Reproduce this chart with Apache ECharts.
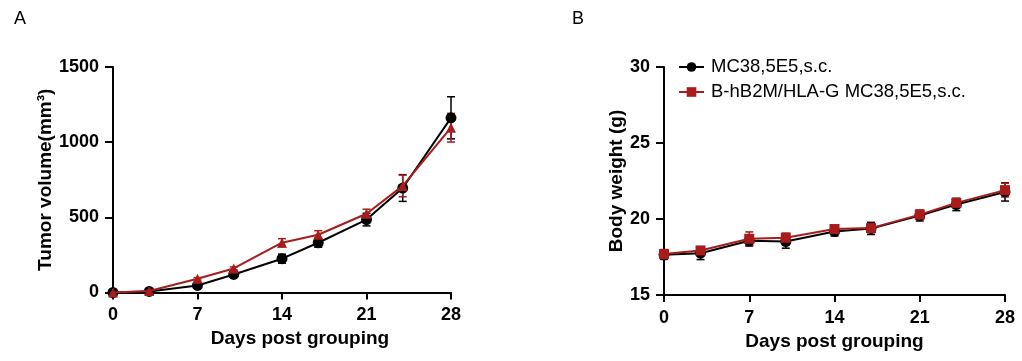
<!DOCTYPE html>
<html>
<head>
<meta charset="utf-8">
<script src="https://cdn.jsdelivr.net/npm/echarts@6/dist/echarts.min.js"></script>
<style>
html,body{margin:0;padding:0;background:#fff;}
#c{width:1022px;height:361px;}
</style>
</head>
<body>
<div id="c"></div>
<script>
// ---- data ----
const days = [0, 3, 7, 10, 14, 17, 21, 24, 28];
const seriesNames = ['MC38,5E5,s.c.', 'B-hB2M/HLA-G MC38,5E5,s.c.'];
// Panel A: tumor volume (mm3), mean and SEM
const volBlack    = [0, 7, 47, 120, 225, 331, 485, 695, 1162];
const volBlackErr = [2, 4, 10, 18, 30, 30, 42, 89, 140];
const volRed      = [0, 10, 91, 160, 331, 384, 524, 709, 1096];
const volRedErr   = [2, 4, 8, 10, 27, 27, 30, 72, 95];
// Panel B: body weight (g), mean and SEM
const wBlack    = [17.64, 17.75, 18.57, 18.52, 19.18, 19.38, 20.22, 20.95, 21.78];
const wBlackErr = [0.30, 0.42, 0.35, 0.44, 0.30, 0.40, 0.35, 0.40, 0.60];
const wRed      = [17.69, 17.93, 18.70, 18.77, 19.34, 19.40, 20.29, 21.06, 21.90];
const wRedErr   = [0.30, 0.25, 0.45, 0.30, 0.20, 0.30, 0.30, 0.30, 0.45];

// ---- styling ----
const FONT = "'Liberation Sans', Arial, sans-serif";
const BLACK = '#000000';
const RED = '#A81C1C';

const chart = echarts.init(document.getElementById('c'), null, {renderer: 'canvas'});

function pairs(vals) { return days.map((d, i) => [d, vals[i]]); }
function triples(vals, errs) { return days.map((d, i) => [d, vals[i], errs[i]]); }

function errRender(color) {
  return function (params, api) {
    const x = api.value(0), y = api.value(1), e = api.value(2);
    const top = api.coord([x, y + e]);
    const bot = api.coord([x, y - e]);
    const w = 4;
    const st = {stroke: color, lineWidth: 1.5};
    return {
      type: 'group',
      children: [
        {type: 'line', shape: {x1: top[0], y1: top[1], x2: bot[0], y2: bot[1]}, style: st},
        {type: 'line', shape: {x1: top[0] - w, y1: top[1], x2: top[0] + w, y2: top[1]}, style: st},
        {type: 'line', shape: {x1: bot[0] - w, y1: bot[1], x2: bot[0] + w, y2: bot[1]}, style: st}
      ]
    };
  };
}

function xAxisCfg(gridIndex, namePad) {
  return {
    type: 'value', gridIndex: gridIndex, min: 0, max: 28, interval: 7,
    name: 'Days post grouping', nameLocation: 'middle', nameGap: 32,
    nameTextStyle: {fontFamily: FONT, fontWeight: 'bold', fontSize: 19, color: '#000', padding: namePad},
    axisLine: {show: true, onZero: false, lineStyle: {color: '#000', width: 2}},
    axisTick: {show: true, length: 7, lineStyle: {color: '#000', width: 2}},
    axisLabel: {fontFamily: FONT, fontWeight: 'bold', fontSize: 18, color: '#000', margin: 14,
                formatter: v => String(v)},
    splitLine: {show: false}
  };
}
function yAxisCfg(gridIndex, min, max, interval, name, gap) {
  return {
    type: 'value', gridIndex: gridIndex, min: min, max: max, interval: interval,
    name: name, nameLocation: 'middle', nameGap: gap, nameRotate: 90,
    nameTextStyle: {fontFamily: FONT, fontWeight: 'bold', fontSize: 19, color: '#000'},
    axisLine: {show: true, onZero: false, lineStyle: {color: '#000', width: 2}},
    axisTick: {show: true, length: 8, lineStyle: {color: '#000', width: 2}},
    axisLabel: {fontFamily: FONT, fontWeight: 'bold', fontSize: 18, color: '#000', margin: 14,
                formatter: v => String(v)},
    splitLine: {show: false}
  };
}

const option = {
  animation: false,
  backgroundColor: '#fff',
  title: [
    {text: 'A', left: 9, top: 5, textStyle: {fontFamily: FONT, fontWeight: 'normal', fontSize: 18, color: '#000'}},
    {text: 'B', left: 567, top: 5, textStyle: {fontFamily: FONT, fontWeight: 'normal', fontSize: 18, color: '#000'}}
  ],
  legend: {
    data: seriesNames,
    orient: 'vertical',
    left: 673, top: 52,
    itemWidth: 25, itemHeight: 12, itemGap: 5,
    textStyle: {fontFamily: FONT, fontSize: 18.5, color: '#000', lineHeight: 20, padding: [0, 0, 0, 2]},
    selectedMode: false
  },
  grid: [
    {left: 113, right: 571, top: 67, bottom: 68.5, outerBoundsMode: 'none'},
    {left: 664, right: 17, top: 67, bottom: 66, outerBoundsMode: 'none'}
  ],
  xAxis: [xAxisCfg(0, [0, 0, 0, 36]), xAxisCfg(1, [0, 0, 0, 0])],
  yAxis: [
    yAxisCfg(0, 0, 1500, 500, 'Tumor volume(mm³)', 55),
    yAxisCfg(1, 15, 30, 5, 'Body weight (g)', 37)
  ],
  series: [
    // Panel A error bars
    {type: 'custom', xAxisIndex: 0, yAxisIndex: 0, data: triples(volBlack, volBlackErr), renderItem: errRender(BLACK), z: 1, silent: true, clip: false},
    {type: 'custom', xAxisIndex: 0, yAxisIndex: 0, data: triples(volRed, volRedErr), renderItem: errRender(RED), z: 1, silent: true, clip: false},
    // Panel A lines
    {type: 'line', name: 'A-' + seriesNames[0], xAxisIndex: 0, yAxisIndex: 0, data: pairs(volBlack),
     symbol: 'circle', symbolSize: 11, itemStyle: {color: BLACK}, lineStyle: {color: BLACK, width: 2}, z: 3},
    {type: 'line', name: 'A-' + seriesNames[1], xAxisIndex: 0, yAxisIndex: 0, data: pairs(volRed),
     symbol: 'triangle', symbolSize: 10, itemStyle: {color: RED}, lineStyle: {color: RED, width: 2}, z: 4},
    // Panel B error bars
    {type: 'custom', xAxisIndex: 1, yAxisIndex: 1, data: triples(wBlack, wBlackErr), renderItem: errRender(BLACK), z: 1, silent: true, clip: false},
    {type: 'custom', xAxisIndex: 1, yAxisIndex: 1, data: triples(wRed, wRedErr), renderItem: errRender(RED), z: 1, silent: true, clip: false},
    // Panel B lines
    {type: 'line', name: seriesNames[0], xAxisIndex: 1, yAxisIndex: 1, data: pairs(wBlack),
     symbol: 'circle', symbolSize: 11, itemStyle: {color: BLACK}, lineStyle: {color: BLACK, width: 2}, z: 3},
    {type: 'line', name: seriesNames[1], xAxisIndex: 1, yAxisIndex: 1, data: pairs(wRed),
     symbol: 'rect', symbolSize: 10, itemStyle: {color: RED}, lineStyle: {color: RED, width: 2}, z: 4}
  ]
};
chart.setOption(option);
</script>
</body>
</html>
